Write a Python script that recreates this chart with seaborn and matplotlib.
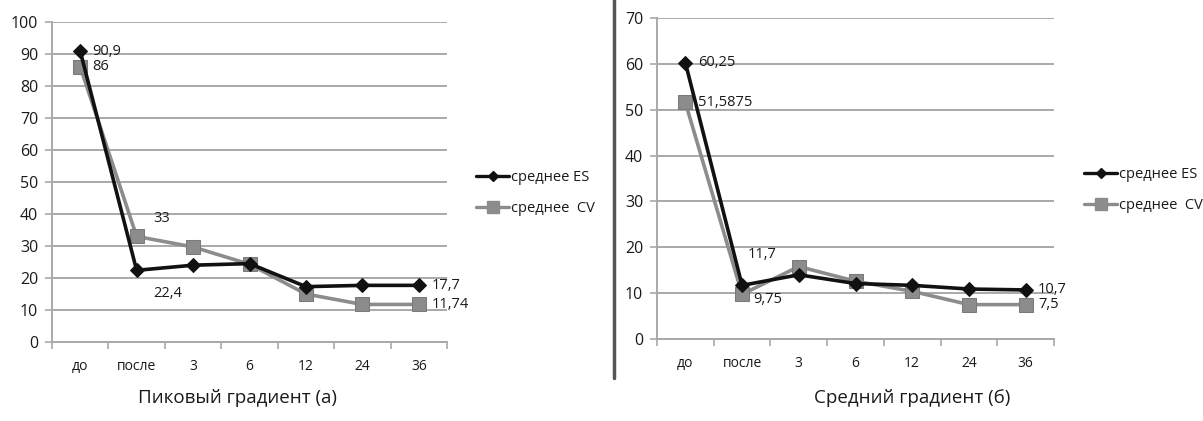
import numpy as np
import pandas as pd
import matplotlib
matplotlib.use("Agg")
import matplotlib.pyplot as plt
from matplotlib.lines import Line2D
import seaborn as sns

# data
periods = ["до", "после", "3", "6", "12", "24", "36"]

peak_es = [90.9, 22.4, 24.0, 24.5, 17.3, 17.7, 17.7]
peak_cv = [86.0, 33.0, 29.7, 24.3, 15.0, 11.74, 11.74]

mean_es = [60.25, 11.7, 14.0, 12.1, 11.7, 10.9, 10.7]
mean_cv = [51.5875, 9.75, 15.8, 12.6, 10.4, 7.5, 7.5]

series_names = ["среднее ES", "среднее  CV"]
captions = ["Пиковый градиент (а)", "Средний градиент (б)"]

sns.set_theme(style="white")
plt.rcParams["font.family"] = ["Open Sans", "DejaVu Sans"]

GRID = "#a9a9a9"
TEXT = "#1a1a1a"
ES_COLOR = "#111111"
CV_COLOR = "#8c8c8c"

W, H = 1203, 421
fig = plt.figure(figsize=(W / 100, H / 100), dpi=100)
fig.patch.set_facecolor("white")


def fx(px):
    return px / W


def fy(py):
    return 1 - py / H


def draw_panel(ax, es, cv, ymax, labels, legend_xy):
    pos = np.arange(len(periods))
    df = pd.DataFrame({
        "pos": np.concatenate([pos, pos]),
        "value": es + cv,
        "series": [series_names[0]] * len(es) + [series_names[1]] * len(cv),
    })
    sns.lineplot(data=df[df.series == series_names[1]], x="pos", y="value", ax=ax,
                 color=CV_COLOR, lw=2.6, marker="s", markersize=10,
                 markeredgecolor="#7a7a7a", markerfacecolor=CV_COLOR,
                 zorder=3, legend=False)
    sns.lineplot(data=df[df.series == series_names[0]], x="pos", y="value", ax=ax,
                 color=ES_COLOR, lw=2.6, marker="D", markersize=7,
                 markeredgecolor=ES_COLOR, markerfacecolor=ES_COLOR,
                 zorder=4, legend=False)

    ax.set_xlim(-0.5, len(periods) - 0.5)
    ax.set_ylim(0, ymax)
    ax.set_yticks(np.arange(0, ymax + 1, 10))
    ax.set_xticks(pos)
    ax.set_xticklabels(periods)
    ax.set_xticks(np.arange(-0.5, len(periods)), minor=True)
    ax.tick_params(axis="x", which="major", length=0, pad=12, labelsize=10, colors=TEXT)
    ax.tick_params(axis="x", which="minor", length=5, width=1.2, color=GRID, bottom=True)
    ax.tick_params(axis="y", length=5, width=1.2, color=GRID, labelsize=11.5,
                   colors=TEXT, left=True, pad=5)
    ax.set_xlabel("")
    ax.set_ylabel("")
    ax.yaxis.grid(True, color=GRID, lw=1.4)
    ax.xaxis.grid(False)
    for side in ["top", "right"]:
        ax.spines[side].set_visible(False)
    for side in ["left", "bottom"]:
        ax.spines[side].set_color(GRID)
        ax.spines[side].set_linewidth(1.4)
    ax.set_axisbelow(True)

    for text, x, y, dx, dy in labels:
        ax.annotate(text, (x, y), xytext=(dx, dy), textcoords="offset points",
                    fontsize=10.5, color=TEXT, va="center", ha="left")

    handles = [
        Line2D([], [], color=ES_COLOR, lw=2.4, marker="D", markersize=5),
        Line2D([], [], color=CV_COLOR, lw=2.4, marker="s", markersize=8),
    ]
    ax.legend(handles, series_names, loc="center left", frameon=False,
              bbox_to_anchor=legend_xy, bbox_transform=fig.transFigure,
              fontsize=10.5, handlelength=2.3, handletextpad=0.1, labelspacing=1.1,
              borderaxespad=0, labelcolor=TEXT)


ax1 = fig.add_axes([fx(52), fy(342), fx(447 - 52), fy(22) - fy(342)])
draw_panel(ax1, peak_es, peak_cv, 100,
           [("90,9", 0, peak_es[0], 9, 0),
            ("86", 0, peak_cv[0], 9, 0),
            ("33", 1, peak_cv[1], 12, 13),
            ("22,4", 1, peak_es[1], 12, -17),
            ("17,7", 6, peak_es[6], 9, 0),
            ("11,74", 6, peak_cv[6], 9, 0)],
           (fx(470), fy(193)))

ax2 = fig.add_axes([fx(657), fy(339), fx(1054 - 657), fy(18) - fy(339)])
draw_panel(ax2, mean_es, mean_cv, 70,
           [("60,25", 0, mean_es[0], 9, 0),
            ("51,5875", 0, mean_cv[0], 9, 0),
            ("11,7", 1, mean_es[1], 4, 22),
            ("9,75", 1, mean_cv[1], 8, -4),
            ("10,7", 6, mean_es[6], 9, 0),
            ("7,5", 6, mean_cv[6], 9, 0)],
           (fx(1078), fy(190)))

# separator between panels
fig.add_artist(Line2D([fx(614), fx(614)], [fy(0), fy(378)], color="#555555", lw=2.5))

fig.text(fx(237), fy(398), captions[0], ha="center", va="center", fontsize=13.5, color=TEXT)
fig.text(fx(912), fy(398), captions[1], ha="center", va="center", fontsize=13.5, color=TEXT)

fig.savefig("out.png", dpi=100, facecolor="white")
plt.close(fig)
